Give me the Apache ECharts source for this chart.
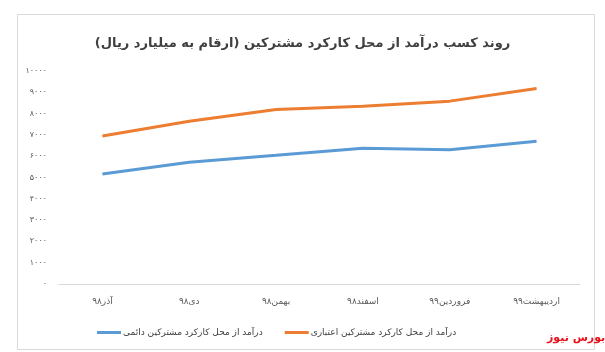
<!DOCTYPE html>
<html><head><meta charset="utf-8">
<script src="https://cdn.jsdelivr.net/npm/echarts@6/dist/echarts.min.js"></script>
<style>html,body{margin:0;padding:0;background:#fff}#c{width:605px;height:352px}</style>
</head><body><div id="c"></div>
<script>
var categories = ['آذر۹۸','دی۹۸','بهمن۹۸','اسفند۹۸','فروردین۹۹','اردیبهشت۹۹'];
var permanent = [5160, 5720, 6040, 6370, 6300, 6700];
var credit = [6950, 7640, 8190, 8350, 8585, 9180];
var seriesNames = ['درآمد از محل کارکرد مشترکین دائمی','درآمد از محل کارکرد مشترکین اعتباری'];
var titleText = 'روند کسب درآمد از محل کارکرد مشترکین (ارقام به میلیارد ریال)';
var fa = '۰۱۲۳۴۵۶۷۸۹';
function toFa(v){return String(v).replace(/[0-9]/g,function(d){return fa[+d];});}
var font = 'DejaVu Sans';
var chart = echarts.init(document.getElementById('c'));
chart.setOption({
  animation:false,
  textStyle:{fontFamily:font},
  title:{text:titleText,left:'center',top:32,textStyle:{fontFamily:font,fontSize:13,fontWeight:'bold',color:'#404040'}},
  grid:{left:59,right:25,top:71,bottom:68,containLabel:false},
  legend:{data:seriesNames,top:323,left:92,itemWidth:24,itemHeight:3,itemGap:22,icon:'rect',
    textStyle:{fontFamily:font,fontSize:9,color:'#404040',padding:[0,0,0,-3]}},
  xAxis:{type:'category',data:categories,boundaryGap:true,
    axisLine:{lineStyle:{color:'#d9d9d9'}},axisTick:{show:false},
    axisLabel:{fontFamily:font,fontSize:9,color:'#595959',margin:13}},
  yAxis:{type:'value',min:0,max:10000,interval:1000,
    axisLine:{show:false},axisTick:{show:false},splitLine:{show:false},
    axisLabel:{fontFamily:font,fontSize:8,color:'#595959',margin:12,formatter:function(v){return toFa(v);}}},
  series:[
    {name:seriesNames[0],type:'line',data:permanent,symbol:'none',lineStyle:{width:3,color:'#5b9bd5'},itemStyle:{color:'#5b9bd5'}},
    {name:seriesNames[1],type:'line',data:credit,symbol:'none',lineStyle:{width:3,color:'#ed7d31'},itemStyle:{color:'#ed7d31'}}
  ],
  graphic:[
    {type:'rect',shape:{x:17.5,y:14.5,width:577,height:335},style:{fill:'none',stroke:'#d9d9d9',lineWidth:1},silent:true},
    {type:'text',left:547,top:333,style:{text:'بورس نیوز',font:'bold 11px '+font,fill:'#e8101b'}}
  ]
});
</script></body></html>
